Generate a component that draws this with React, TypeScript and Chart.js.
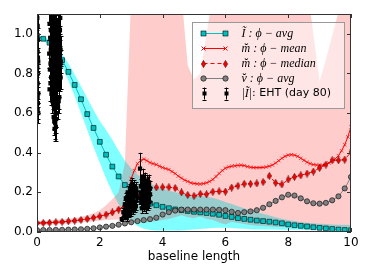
import React, { useEffect, useRef } from "react";
import { Chart, registerables } from "chart.js";

Chart.register(...registerables);

// ---------- data ----------
const GRID_X = [0, 0.2, 0.4, 0.6, 0.8, 1, 1.2, 1.4, 1.6, 1.8, 2, 2.2, 2.4, 2.6, 2.8, 3, 3.2, 3.4, 3.6, 3.8, 4, 4.2, 4.4, 4.6, 4.8, 5, 5.2, 5.4, 5.6, 5.8, 6, 6.2, 6.4, 6.6, 6.8, 7, 7.2, 7.4, 7.6, 7.8, 8, 8.2, 8.4, 8.6, 8.8, 9, 9.2, 9.4, 9.6, 9.8, 10];

const I_AVG = [0.99, 0.975, 0.955, 0.92, 0.867, 0.808, 0.742, 0.67, 0.595, 0.525, 0.455, 0.39, 0.33, 0.28, 0.237, 0.2, 0.175, 0.155, 0.143, 0.135, 0.127, 0.12, 0.114, 0.11, 0.106, 0.102, 0.099, 0.096, 0.092, 0.087, 0.081, 0.076, 0.07, 0.066, 0.062, 0.058, 0.055, 0.052, 0.048, 0.044, 0.038, 0.034, 0.031, 0.028, 0.024, 0.021, 0.018, 0.015, 0.012, 0.01, 0.009];
const I_LO = [0.985, 0.965, 0.94, 0.9, 0.835, 0.765, 0.685, 0.6, 0.515, 0.43, 0.35, 0.27, 0.2, 0.14, 0.09, 0.055, 0.03, 0.016, 0.01, 0.008, 0.008, 0.008, 0.008, 0.008, 0.01, 0.012, 0.015, 0.018, 0.02, 0.022, 0.022, 0.02, 0.018, 0.016, 0.014, 0.013, 0.012, 0.012, 0.012, 0.011, 0.011, 0.011, 0.011, 0.01, 0.01, 0.01, 0.01, 0.01, 0.01, 0.01, 0.01];
const I_HI = [0.995, 0.985, 0.97, 0.945, 0.9, 0.85, 0.795, 0.735, 0.675, 0.615, 0.56, 0.515, 0.465, 0.41, 0.36, 0.32, 0.29, 0.265, 0.245, 0.23, 0.218, 0.208, 0.2, 0.195, 0.19, 0.186, 0.182, 0.178, 0.172, 0.163, 0.152, 0.141, 0.13, 0.12, 0.11, 0.1, 0.092, 0.083, 0.075, 0.067, 0.06, 0.055, 0.05, 0.047, 0.044, 0.042, 0.04, 0.038, 0.037, 0.036, 0.035];

const M_MEDIAN = [0.045, 0.046, 0.047, 0.049, 0.051, 0.054, 0.057, 0.061, 0.066, 0.072, 0.079, 0.088, 0.099, 0.113, 0.13, 0.152, 0.18, 0.205, 0.222, 0.225, 0.226, 0.226, 0.222, 0.2, 0.187, 0.182, 0.192, 0.19, 0.203, 0.205, 0.204, 0.224, 0.233, 0.243, 0.243, 0.245, 0.252, 0.283, 0.248, 0.24, 0.265, 0.278, 0.286, 0.295, 0.305, 0.323, 0.34, 0.362, 0.362, 0.365, 0.404];
const M_LO = [0.036, 0.037, 0.038, 0.039, 0.041, 0.043, 0.045, 0.048, 0.051, 0.054, 0.057, 0.06, 0.062, 0.063, 0.06, 0.05, 0.045, 0.045, 0.05, 0.055, 0.06, 0.065, 0.075, 0.085, 0.075, 0.07, 0.078, 0.065, 0.06, 0.048, 0.038, 0.052, 0.045, 0.04, 0.035, 0.032, 0.03, 0.028, 0.026, 0.025, 0.025, 0.024, 0.024, 0.023, 0.023, 0.022, 0.022, 0.021, 0.021, 0.02, 0.02];
const M_HI = [0.056, 0.057, 0.058, 0.06, 0.063, 0.066, 0.07, 0.076, 0.084, 0.095, 0.11, 0.135, 0.165, 0.2, 0.35, 1.2, 1.4, 1.5, 1.5, 1.45, 1.4, 1.35, 1.3, 1.2, 0.84, 0.77, 0.8, 1.0, 1.2, 1.35, 1.4, 1.4, 1.4, 1.4, 1.4, 1.4, 1.4, 1.4, 1.4, 1.4, 1.4, 1.4, 1.4, 1.25, 1.0, 0.76, 0.87, 0.99, 1.11, 1.25, 1.3];

const V_AVG = [0.01, 0.01, 0.01, 0.011, 0.011, 0.012, 0.013, 0.014, 0.016, 0.019, 0.023, 0.027, 0.031, 0.037, 0.043, 0.049, 0.055, 0.06, 0.065, 0.072, 0.088, 0.1, 0.108, 0.113, 0.113, 0.113, 0.113, 0.113, 0.113, 0.112, 0.11, 0.102, 0.096, 0.1, 0.104, 0.11, 0.122, 0.14, 0.157, 0.175, 0.188, 0.184, 0.17, 0.155, 0.145, 0.143, 0.147, 0.16, 0.18, 0.22, 0.278];

const MEAN_X = [0, 0.2, 0.4, 0.6, 0.8, 1, 1.2, 1.4, 1.6, 1.8, 2, 2.2, 2.4, 2.6,
  2.8, 2.9, 3, 3.1, 3.2, 3.3, 3.4, 3.5, 3.6, 3.7, 3.8, 3.9, 4, 4.1, 4.2, 4.3, 4.4, 4.5, 4.6, 4.7, 4.8, 4.9, 5, 5.1, 5.2, 5.3, 5.4, 5.5, 5.6, 5.7, 5.8, 5.9, 6, 6.1, 6.2, 6.3, 6.4, 6.5, 6.6, 6.7, 6.8, 6.9, 7, 7.1, 7.2, 7.3, 7.4, 7.5, 7.6, 7.7, 7.8, 7.9, 8, 8.1, 8.2, 8.3, 8.4, 8.5, 8.6, 8.7, 8.8, 8.9, 9, 9.1, 9.2, 9.3, 9.4, 9.5, 9.6, 9.7, 9.8, 9.9, 10];
const MEAN_Y = [0.045, 0.046, 0.047, 0.049, 0.051, 0.054, 0.057, 0.061, 0.066, 0.072, 0.079, 0.088, 0.099, 0.113,
  0.135, 0.2, 0.27, 0.31, 0.345, 0.36, 0.368, 0.36, 0.35, 0.345, 0.34, 0.332, 0.325, 0.32, 0.315, 0.305, 0.295, 0.282, 0.272, 0.262, 0.255, 0.248, 0.245, 0.243, 0.242, 0.244, 0.248, 0.255, 0.265, 0.28, 0.295, 0.31, 0.322, 0.328, 0.332, 0.334, 0.336, 0.337, 0.335, 0.33, 0.327, 0.325, 0.325, 0.325, 0.326, 0.328, 0.332, 0.338, 0.348, 0.36, 0.372, 0.382, 0.388, 0.39, 0.388, 0.382, 0.372, 0.362, 0.352, 0.345, 0.34, 0.338, 0.337, 0.337, 0.34, 0.348, 0.358, 0.37, 0.385, 0.41, 0.44, 0.48, 0.53];

// EHT (day 80) amplitudes: baseline, value, error
const EHT_X = [
  0.02, 0.03, 0.02, 0.04, 0.03, 0.02, 0.04, 0.03, 0.02, 0.01, 0.03, 0.02, 0.04, 0.01,
  0.40, 0.42, 0.44, 0.45, 0.47, 0.48, 0.50, 0.50, 0.52, 0.52, 0.53, 0.54, 0.55, 0.55, 0.56, 0.57, 0.57, 0.58, 0.59, 0.60, 0.60, 0.61, 0.62, 0.63, 0.64, 0.65, 0.66, 0.67, 0.68, 0.70, 0.71, 0.72, 0.73, 0.74, 0.39, 0.41, 0.43, 0.46, 0.49, 0.58, 0.62, 0.69, 0.75, 0.56,
  0.38, 0.40, 0.42, 0.43, 0.44, 0.45, 0.46, 0.47, 0.48, 0.49, 0.50, 0.51, 0.51, 0.53, 0.53, 0.54, 0.54, 0.56, 0.56, 0.57, 0.58, 0.59, 0.59, 0.60, 0.61, 0.61, 0.62, 0.63, 0.64, 0.65, 0.66, 0.67, 0.68, 0.69, 0.70, 0.71, 0.72, 0.73, 0.74, 0.75, 0.76, 0.55, 0.60, 0.53,
  2.70, 2.78, 2.82, 2.85, 2.88, 2.90, 2.92, 2.95, 2.97, 3.00, 3.00, 3.02, 3.05, 3.05, 3.08, 3.10, 3.12, 3.15, 3.17, 2.93, 2.87, 3.03,
  2.75, 2.80, 2.83, 2.86, 2.89, 2.91, 2.94, 2.96, 2.98, 3.01, 3.04, 3.06, 3.09, 3.11, 3.14, 3.16, 2.84, 2.99,
  3.28, 3.30, 3.32, 3.35, 3.38, 3.40, 3.42, 3.45, 3.47, 3.50, 3.52, 3.55, 3.57, 3.60, 3.36, 3.48, 3.58,
  3.29, 3.31, 3.33, 3.34, 3.37, 3.39, 3.41, 3.43, 3.44, 3.46, 3.49, 3.51, 3.53, 3.54, 3.56, 3.59];
const EHT_Y = [
  1.04, 0.97, 0.91, 0.86, 0.80, 0.75, 0.70, 0.65, 0.62, 1.08, 0.88, 0.68, 0.60, 0.83,
  1.05, 0.98, 0.92, 1.10, 0.86, 1.00, 0.80, 0.95, 0.74, 1.08, 0.88, 0.68, 0.62, 0.97, 0.83, 0.58, 1.04, 0.76, 0.91, 0.70, 0.64, 1.00, 0.85, 0.78, 0.93, 0.72, 1.06, 0.88, 0.80, 0.96, 0.74, 0.90, 1.02, 0.84, 0.90, 0.82, 0.75, 0.70, 0.66, 0.55, 0.60, 0.66, 0.78, 0.52,
  1.15, 0.72, 1.12, 0.85, 1.02, 0.78, 0.95, 1.06, 0.72, 0.89, 1.12, 0.68, 0.84, 0.99, 0.64, 0.80, 1.14, 0.70, 0.92, 0.66, 1.10, 0.82, 0.60, 0.96, 0.74, 0.57, 1.12, 0.68, 0.86, 1.00, 0.77, 0.63, 0.94, 1.10, 0.82, 0.68, 0.97, 0.77, 1.08, 0.92, 0.86, 0.56, 0.53, 0.58,
  0.065, 0.08, 0.12, 0.10, 0.14, 0.16, 0.12, 0.18, 0.15, 0.20, 0.13, 0.17, 0.22, 0.11, 0.19, 0.15, 0.21, 0.13, 0.18, 0.09, 0.175, 0.24,
  0.10, 0.14, 0.17, 0.07, 0.20, 0.11, 0.15, 0.21, 0.10, 0.16, 0.19, 0.14, 0.23, 0.12, 0.18, 0.22, 0.13, 0.23,
  0.32, 0.20, 0.15, 0.24, 0.18, 0.22, 0.13, 0.26, 0.19, 0.23, 0.16, 0.21, 0.25, 0.19, 0.28, 0.12, 0.15,
  0.17, 0.23, 0.19, 0.12, 0.21, 0.16, 0.25, 0.20, 0.15, 0.22, 0.25, 0.19, 0.24, 0.14, 0.18, 0.22];
const EHT_ERR = [
  0.07, 0.06, 0.06, 0.05, 0.05, 0.05, 0.05, 0.05, 0.05, 0.06, 0.05, 0.05, 0.05, 0.05,
  0.08, 0.07, 0.06, 0.09, 0.06, 0.07, 0.06, 0.07, 0.06, 0.08, 0.06, 0.06, 0.07, 0.07, 0.06, 0.08, 0.08, 0.06, 0.07, 0.06, 0.06, 0.08, 0.06, 0.06, 0.07, 0.06, 0.08, 0.06, 0.06, 0.07, 0.06, 0.07, 0.08, 0.06, 0.07, 0.06, 0.06, 0.06, 0.06, 0.08, 0.07, 0.06, 0.06, 0.06,
  0.09, 0.06, 0.09, 0.06, 0.08, 0.06, 0.07, 0.08, 0.06, 0.07, 0.09, 0.06, 0.06, 0.07, 0.06, 0.06, 0.09, 0.06, 0.07, 0.07, 0.09, 0.06, 0.07, 0.07, 0.06, 0.07, 0.09, 0.06, 0.06, 0.08, 0.06, 0.06, 0.07, 0.09, 0.06, 0.06, 0.07, 0.06, 0.08, 0.07, 0.06, 0.07, 0.07, 0.06,
  0.01, 0.015, 0.02, 0.02, 0.02, 0.025, 0.02, 0.03, 0.02, 0.03, 0.02, 0.025, 0.03, 0.02, 0.03, 0.025, 0.03, 0.02, 0.025, 0.015, 0.025, 0.03,
  0.02, 0.02, 0.025, 0.015, 0.03, 0.02, 0.025, 0.03, 0.02, 0.025, 0.03, 0.025, 0.03, 0.02, 0.03, 0.03, 0.02, 0.03,
  0.08, 0.03, 0.025, 0.035, 0.03, 0.04, 0.025, 0.04, 0.03, 0.035, 0.03, 0.04, 0.04, 0.035, 0.04, 0.025, 0.03,
  0.03, 0.035, 0.03, 0.025, 0.035, 0.03, 0.04, 0.03, 0.03, 0.035, 0.04, 0.03, 0.04, 0.03, 0.03, 0.035];

const X_TICKS = [0, 2, 4, 6, 8, 10];
const Y_TICKS = [0, 0.2, 0.4, 0.6, 0.8, 1.0];
const X_TITLE = "baseline length";
const LEGEND_MATH = ["Ĩ : ϕ − avg", "m̆ : ϕ − mean", "m̆ : ϕ − median", "v̆ : ϕ − avg", "|Ĩ|"];
const LEGEND_EHT = ": EHT (day 80)";

// ---------- styles ----------
const CYAN = "rgb(0,191,191)";
const RED = "rgb(255,0,0)";
const GRAY = "rgb(128,128,128)";
const MATH_FONT = 'italic 12px "Liberation Serif"';
const SANS_FONT = '11px "DejaVu Sans"';

function pts(xs: number[], ys: number[]) {
  return xs.map((x, i) => ({ x, y: ys[i] }));
}

function makeDiamond(): HTMLCanvasElement {
  const c = document.createElement("canvas");
  c.width = 5;
  c.height = 8;
  const g = c.getContext("2d")!;
  g.beginPath();
  g.moveTo(2.5, 0.4);
  g.lineTo(4.6, 4);
  g.lineTo(2.5, 7.6);
  g.lineTo(0.4, 4);
  g.closePath();
  g.fillStyle = RED;
  g.fill();
  g.lineWidth = 0.6;
  g.strokeStyle = "#400";
  g.stroke();
  return c;
}

const errorBarPlugin = {
  id: "errorBars",
  afterDatasetsDraw(chart: any) {
    const { ctx, chartArea: a, scales } = chart;
    ctx.save();
    ctx.beginPath();
    ctx.rect(a.left, a.top, a.right - a.left, a.bottom - a.top);
    ctx.clip();
    ctx.strokeStyle = "#000";
    ctx.lineWidth = 1;
    ctx.beginPath();
    EHT_X.forEach((x, i) => {
      const px = Math.round(scales.x.getPixelForValue(x)) + 0.5;
      const lo = scales.y.getPixelForValue(EHT_Y[i] - EHT_ERR[i]);
      const hi = scales.y.getPixelForValue(EHT_Y[i] + EHT_ERR[i]);
      ctx.moveTo(px, lo);
      ctx.lineTo(px, hi);
      ctx.moveTo(px - 2, Math.round(lo) + 0.5);
      ctx.lineTo(px + 2, Math.round(lo) + 0.5);
      ctx.moveTo(px - 2, Math.round(hi) + 0.5);
      ctx.lineTo(px + 2, Math.round(hi) + 0.5);
    });
    ctx.stroke();
    ctx.restore();
  },
};

const framePlugin = {
  id: "frame",
  afterDatasetsDraw(chart: any) {
    const { ctx, chartArea: a, scales } = chart;
    ctx.save();
    ctx.strokeStyle = "#333";
    ctx.lineWidth = 1;
    ctx.strokeRect(a.left + 0.5, a.top + 0.5, a.right - a.left - 1, a.bottom - a.top - 1);
    ctx.beginPath();
    X_TICKS.forEach((v) => {
      const px = Math.round(scales.x.getPixelForValue(v)) + 0.5;
      ctx.moveTo(px, a.bottom);
      ctx.lineTo(px, a.bottom - 4);
      ctx.moveTo(px, a.top);
      ctx.lineTo(px, a.top + 4);
    });
    Y_TICKS.forEach((v) => {
      const py = Math.round(scales.y.getPixelForValue(v)) + 0.5;
      ctx.moveTo(a.left, py);
      ctx.lineTo(a.left + 4, py);
      ctx.moveTo(a.right, py);
      ctx.lineTo(a.right - 4, py);
    });
    ctx.stroke();
    ctx.restore();
  },
};

function makeLegendPlugin(diamond: HTMLCanvasElement) {
  return {
    id: "customLegend",
    afterDraw(chart: any) {
      const { ctx, chartArea: a } = chart;
      const W = 152;
      const H = 86;
      const L = a.right - 7 - W + 0.5;
      const T = a.top + 8 + 0.5;
      ctx.save();
      ctx.fillStyle = "rgba(255,255,255,0.5)";
      ctx.fillRect(L, T, W, H);
      ctx.strokeStyle = "#999";
      ctx.lineWidth = 1;
      ctx.strokeRect(L, T, W, H);
      const x1 = L + 11;
      const x2 = L + 33;
      const tx = L + 49;
      const rowY = (i: number) => T + 11 + i * 15;

      // row 0: cyan squares
      let y = rowY(0);
      ctx.strokeStyle = CYAN;
      ctx.lineWidth = 1;
      ctx.beginPath();
      ctx.moveTo(x1, y);
      ctx.lineTo(x2, y);
      ctx.stroke();
      [x1, x2].forEach((x) => {
        ctx.fillStyle = CYAN;
        ctx.fillRect(x - 2.5, y - 2.5, 5, 5);
        ctx.strokeStyle = "#000";
        ctx.lineWidth = 0.6;
        ctx.strokeRect(x - 2.5, y - 2.5, 5, 5);
      });

      // row 1: red x
      y = rowY(1);
      ctx.strokeStyle = RED;
      ctx.lineWidth = 1;
      ctx.beginPath();
      ctx.moveTo(x1, y);
      ctx.lineTo(x2, y);
      [x1, x2].forEach((x) => {
        ctx.moveTo(x - 2, y - 2);
        ctx.lineTo(x + 2, y + 2);
        ctx.moveTo(x - 2, y + 2);
        ctx.lineTo(x + 2, y - 2);
      });
      ctx.stroke();

      // row 2: dashed red diamonds
      y = rowY(2);
      ctx.strokeStyle = RED;
      ctx.setLineDash([4, 3]);
      ctx.beginPath();
      ctx.moveTo(x1, y);
      ctx.lineTo(x2, y);
      ctx.stroke();
      ctx.setLineDash([]);
      [x1, x2].forEach((x) => ctx.drawImage(diamond, Math.round(x - diamond.width / 2), Math.round(y - diamond.height / 2)));

      // row 3: gray circles
      y = rowY(3);
      ctx.strokeStyle = GRAY;
      ctx.lineWidth = 1;
      ctx.beginPath();
      ctx.moveTo(x1, y);
      ctx.lineTo(x2, y);
      ctx.stroke();
      [x1, x2].forEach((x) => {
        ctx.beginPath();
        ctx.arc(x, y, 2.7, 0, Math.PI * 2);
        ctx.fillStyle = GRAY;
        ctx.fill();
        ctx.strokeStyle = "#000";
        ctx.lineWidth = 0.6;
        ctx.stroke();
      });

      // row 4: error bar markers
      y = rowY(4);
      ctx.strokeStyle = "#000";
      ctx.lineWidth = 1;
      [x1, x2].forEach((x) => {
        const px = Math.round(x) + 0.5;
        ctx.beginPath();
        ctx.moveTo(px, y - 6);
        ctx.lineTo(px, y + 6);
        ctx.moveTo(px - 2, Math.round(y - 6) + 0.5);
        ctx.lineTo(px + 2, Math.round(y - 6) + 0.5);
        ctx.moveTo(px - 2, Math.round(y + 6) + 0.5);
        ctx.lineTo(px + 2, Math.round(y + 6) + 0.5);
        ctx.stroke();
        ctx.fillStyle = "#000";
        ctx.fillRect(px - 2, y - 2, 4, 4);
      });

      // texts
      ctx.fillStyle = "#000";
      ctx.textBaseline = "middle";
      ctx.textAlign = "left";
      ctx.font = MATH_FONT;
      for (let i = 0; i < 4; i++) ctx.fillText(LEGEND_MATH[i], tx, rowY(i));
      ctx.fillText(LEGEND_MATH[4], tx, rowY(4));
      const w = ctx.measureText(LEGEND_MATH[4]).width;
      ctx.font = SANS_FONT;
      ctx.fillText(LEGEND_EHT, tx + w, rowY(4));
      ctx.restore();
    },
  };
}

export default function App() {
  const ref = useRef<HTMLCanvasElement>(null);

  useEffect(() => {
    if (!ref.current) return;
    const diamond = makeDiamond();
    const chart = new Chart(ref.current, {
      type: "line",
      data: {
        datasets: [
          { data: pts(GRID_X, I_LO), borderWidth: 0, pointRadius: 0, fill: false, order: 20 },
          { data: pts(GRID_X, I_HI), borderWidth: 0, pointRadius: 0, fill: "-1", backgroundColor: "rgba(0,255,255,0.5)", order: 19 },
          { data: pts(GRID_X, M_LO), borderWidth: 0, pointRadius: 0, fill: false, order: 18 },
          { data: pts(GRID_X, M_HI), borderWidth: 0, pointRadius: 0, fill: "-1", backgroundColor: "rgba(255,0,0,0.2)", order: 17 },
          {
            data: pts(GRID_X, I_AVG), borderColor: CYAN, borderWidth: 1, pointStyle: "rect", pointRadius: 3.4,
            pointBackgroundColor: CYAN, pointBorderColor: "#000", pointBorderWidth: 0.6, fill: false, order: 6,
          },
          {
            data: pts(MEAN_X, MEAN_Y), borderColor: RED, borderWidth: 1, pointStyle: "crossRot", pointRadius: 2.4,
            pointBorderColor: RED, pointBorderWidth: 0.7, fill: false, order: 5,
          },
          {
            data: pts(GRID_X, M_MEDIAN), borderColor: RED, borderWidth: 1, borderDash: [4, 3], pointStyle: diamond as any,
            pointRadius: 3, fill: false, order: 4,
          },
          {
            data: pts(GRID_X, V_AVG), borderColor: GRAY, borderWidth: 1, pointStyle: "circle", pointRadius: 2.6,
            pointBackgroundColor: GRAY, pointBorderColor: "#000", pointBorderWidth: 0.6, fill: false, order: 3,
          },
          {
            data: pts(EHT_X, EHT_Y), showLine: false, pointStyle: "rect", pointRadius: 3,
            pointBackgroundColor: "#000", pointBorderColor: "#000", pointBorderWidth: 0, fill: false, order: 1,
          },
        ],
      },
      options: {
        animation: false,
        responsive: true,
        maintainAspectRatio: false,
        events: [],
        layout: { padding: { left: 0, right: 23, top: 14, bottom: 0 } },
        plugins: { legend: { display: false }, tooltip: { enabled: false } },
        scales: {
          x: {
            type: "linear",
            min: 0,
            max: 10,
            grid: { display: false, drawTicks: false },
            border: { display: false },
            ticks: {
              stepSize: 2, color: "#000", font: { family: "DejaVu Sans", size: 12 }, padding: 4,
              maxRotation: 0, autoSkip: false, includeBounds: false,
            },
            title: {
              display: true, text: X_TITLE, color: "#000", font: { family: "DejaVu Sans", size: 12 },
              padding: { top: 0, bottom: 16 },
            },
            afterFit: (s: any) => { s.height = 48; },
          },
          y: {
            type: "linear",
            min: 0,
            max: 1.1,
            grid: { display: false, drawTicks: false },
            border: { display: false },
            ticks: {
              stepSize: 0.2, color: "#000", font: { family: "DejaVu Sans", size: 12 }, padding: 4,
              includeBounds: false, callback: (v: any) => Number(v).toFixed(1),
            },
            afterFit: (s: any) => { s.width = 37; },
          },
        },
      } as any,
      plugins: [errorBarPlugin, framePlugin, makeLegendPlugin(diamond)],
    });
    return () => chart.destroy();
  }, []);

  return (
    <div style={{ position: "absolute", left: 0, top: 0, width: 374, height: 280 }}>
      <canvas ref={ref} />
    </div>
  );
}
